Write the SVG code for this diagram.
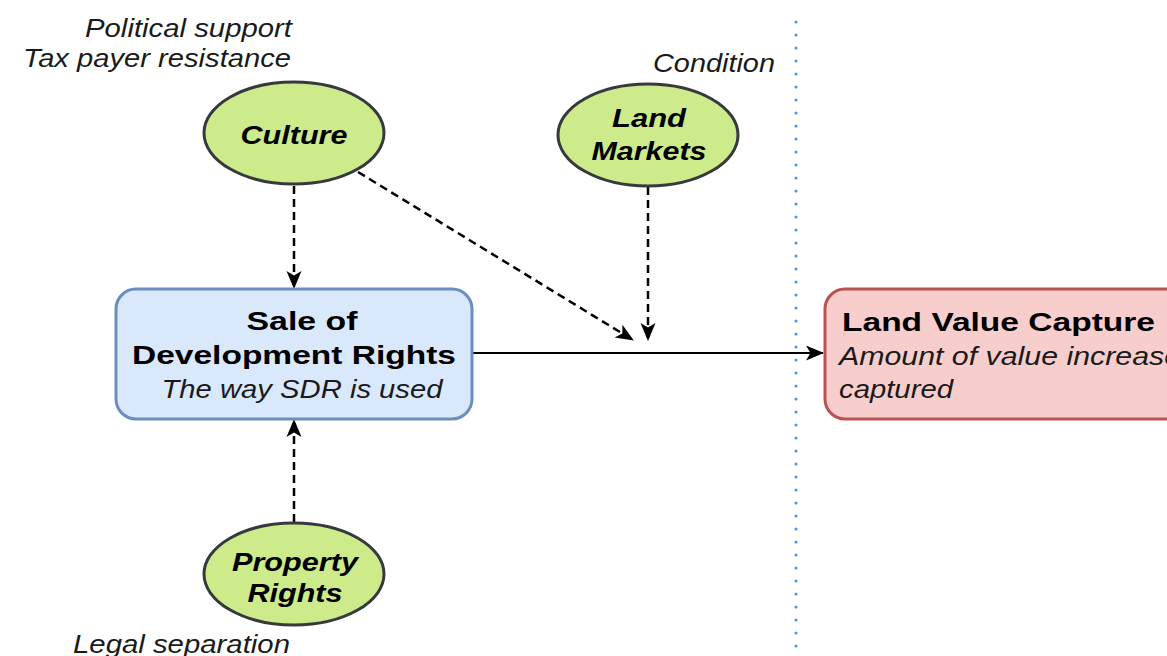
<svg xmlns="http://www.w3.org/2000/svg" width="1167" height="656" viewBox="0 0 1167 656">
  <defs>
    <style>
      .ellipse { fill: #cdeb8b; stroke: #36393d; stroke-width: 3; }
      .sdr { fill: #dae8fc; stroke: #6c8ebf; stroke-width: 3; }
      .lvc { fill: #f8cecc; stroke: #b85450; stroke-width: 3; }
      .t { font-family: "Liberation Sans", Arial, sans-serif; fill: #000; }
      .node-label { font-size: 26px; font-weight: bold; font-style: italic; }
      .title { font-size: 26px; font-weight: bold; }
      .note { font-size: 25px; font-style: italic; fill: #1a1a1a; }
      .dashed { stroke: #000; stroke-width: 2.5; stroke-dasharray: 8 5; fill: none; }
      .solid { stroke: #000; stroke-width: 2; fill: none; }
      .divider { stroke: #3399ff; stroke-width: 3; stroke-linecap: round; stroke-dasharray: 0 13; fill: none; }
    </style>
    <marker id="arrow" viewBox="0 0 18 18" refX="17" refY="9" markerWidth="18" markerHeight="18" markerUnits="userSpaceOnUse" orient="auto">
      <path d="M0,1.5 L18,9 L0,16.5 L4.5,9 Z" fill="#000"/>
    </marker>
  </defs>

  <!-- dotted divider between causes and outcome -->
  <line class="divider" x1="796" y1="22" x2="796" y2="656"/>

  <!-- annotations -->
  <g id="annotations">
    <text class="t note" x="292" y="37" text-anchor="end" textLength="207" lengthAdjust="spacingAndGlyphs">Political support</text>
    <text class="t note" x="291" y="67" text-anchor="end" textLength="268" lengthAdjust="spacingAndGlyphs">Tax payer resistance</text>
    <text class="t note" x="775" y="72" text-anchor="end" textLength="122" lengthAdjust="spacingAndGlyphs">Condition</text>
    <text class="t note" x="73" y="653" textLength="217" lengthAdjust="spacingAndGlyphs">Legal separation</text>
  </g>

  <!-- connectors -->
  <g id="connectors">
    <line class="dashed" x1="294" y1="186" x2="294" y2="288" marker-end="url(#arrow)"/>
    <line class="dashed" x1="294" y1="522" x2="294" y2="420" marker-end="url(#arrow)"/>
    <line class="dashed" x1="648" y1="187" x2="648" y2="340" marker-end="url(#arrow)"/>
    <line class="dashed" x1="358" y1="172" x2="633" y2="340" marker-end="url(#arrow)"/>
    <line class="solid" x1="473" y1="353" x2="823" y2="353" marker-end="url(#arrow)"/>
  </g>

  <g id="culture">
    <ellipse class="ellipse" cx="294" cy="133" rx="90" ry="51"/>
    <text class="t node-label" x="294" y="144" text-anchor="middle" textLength="107" lengthAdjust="spacingAndGlyphs">Culture</text>
  </g>

  <g id="land-markets">
    <ellipse class="ellipse" cx="648" cy="135" rx="90" ry="51"/>
    <text class="t node-label" x="649" y="127" text-anchor="middle" textLength="74" lengthAdjust="spacingAndGlyphs">Land</text>
    <text class="t node-label" x="649" y="160" text-anchor="middle" textLength="115" lengthAdjust="spacingAndGlyphs">Markets</text>
  </g>

  <g id="property-rights">
    <ellipse class="ellipse" cx="294" cy="574" rx="90" ry="51"/>
    <text class="t node-label" x="295" y="571" text-anchor="middle" textLength="126" lengthAdjust="spacingAndGlyphs">Property</text>
    <text class="t node-label" x="295" y="602" text-anchor="middle" textLength="95" lengthAdjust="spacingAndGlyphs">Rights</text>
  </g>

  <g id="sale-of-development-rights">
    <rect class="sdr" x="116" y="289" width="356" height="130" rx="20" ry="20"/>
    <text class="t title" x="302" y="330" text-anchor="middle" textLength="111" lengthAdjust="spacingAndGlyphs">Sale of</text>
    <text class="t title" x="294" y="364" text-anchor="middle" textLength="324" lengthAdjust="spacingAndGlyphs">Development Rights</text>
    <text class="t note" x="302" y="398" text-anchor="middle" textLength="281" lengthAdjust="spacingAndGlyphs">The way SDR is used</text>
  </g>

  <g id="land-value-capture">
    <rect class="lvc" x="825" y="289" width="380" height="130" rx="20" ry="20"/>
    <text class="t title" x="842" y="331" textLength="313" lengthAdjust="spacingAndGlyphs">Land Value Capture</text>
    <text class="t note" x="839" y="365" textLength="342" lengthAdjust="spacingAndGlyphs">Amount of value increase</text>
    <text class="t note" x="839" y="398" textLength="114" lengthAdjust="spacingAndGlyphs">captured</text>
  </g>
</svg>
